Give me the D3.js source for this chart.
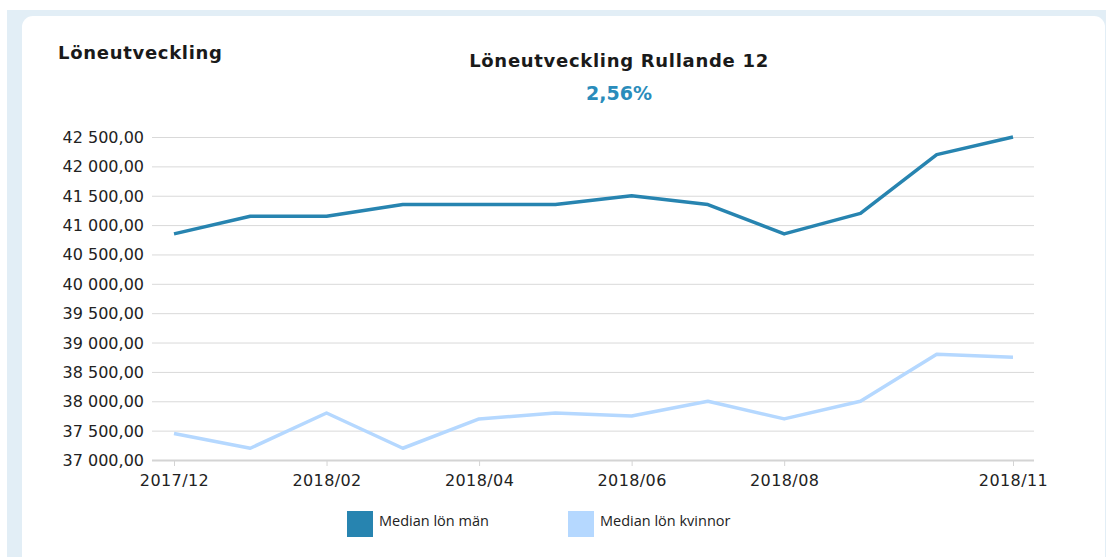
<!DOCTYPE html>
<html><head><meta charset="utf-8">
<script src="https://cdn.jsdelivr.net/npm/d3@7"></script>
<style>
html,body{margin:0;padding:0;background:#fff;}
svg{display:block;}
</style></head>
<body>
<svg id="chart" width="1106" height="557"></svg>
<script>
const months = ["2017/12","2018/01","2018/02","2018/03","2018/04","2018/05","2018/06","2018/07","2018/08","2018/09","2018/10","2018/11"];
const tickMonths = ["2017/12","2018/02","2018/04","2018/06","2018/08","2018/11"];
const medianMen = [40850,41150,41150,41350,41350,41350,41500,41350,40850,41200,42200,42500];
const medianWomen = [37450,37200,37800,37200,37700,37800,37750,38000,37700,38000,38800,38750];
const yTicks = [37000,37500,38000,38500,39000,39500,40000,40500,41000,41500,42000,42500];
const seriesNames = ["Median lön män","Median lön kvinnor"];
const seriesColors = ["#2784b0","#b5d8ff"];
const cardTitle = "Löneutveckling";
const chartTitle = "Löneutveckling Rullande 12";
const kpi = "2,56%";

const svg = d3.select("#chart");
// background
svg.append("rect").attr("x",7).attr("y",10).attr("width",1099).attr("height",547).attr("fill","#e2eef6");
svg.append("rect").attr("x",22).attr("y",16).attr("width",1083).attr("height",600).attr("rx",11).attr("fill","#fff");

svg.append("text").attr("x",58).attr("y",59).text(cardTitle)
  .attr("font-family","DejaVu Sans, Verdana, sans-serif").attr("font-weight","bold").attr("font-size",18)
  .attr("letter-spacing",0.7).attr("fill","#1a1a1a");
svg.append("text").attr("x",619).attr("y",67).attr("text-anchor","middle").text(chartTitle)
  .attr("font-family","DejaVu Sans, Verdana, sans-serif").attr("font-weight","bold").attr("font-size",18)
  .attr("letter-spacing",0.7).attr("fill","#1a1a1a");
svg.append("text").attr("x",619).attr("y",100).attr("text-anchor","middle").text(kpi)
  .attr("font-family","DejaVu Sans, Verdana, sans-serif").attr("font-weight","bold").attr("font-size",19).attr("fill","#2a8cbb");

const x = d3.scalePoint().domain(months).range([174,1013]);
const y = d3.scaleLinear().domain([37000,42500]).range([460,137]);
const fmt = v => d3.format(",.2f")(v).replace(/,/g," ").replace(".",",");

// grid
const g = svg.append("g");
g.selectAll("line.grid").data(yTicks).join("line")
  .attr("x1",152).attr("x2",1034).attr("y1",d=>y(d)+0.5).attr("y2",d=>y(d)+0.5)
  .attr("stroke",d=>d===37000?"#d4d4d4":"#d9d9d9").attr("stroke-width",d=>d===37000?2:1);
g.selectAll("text.yl").data(yTicks).join("text")
  .attr("x",144).attr("y",d=>y(d)+6).attr("text-anchor","end").text(fmt)
  .attr("font-family","DejaVu Sans, Verdana, sans-serif").attr("font-size",16).attr("fill","#222");

// x axis
const xAxis = d3.axisBottom(x).tickValues(tickMonths).tickSize(5).tickPadding(9);
const ax = svg.append("g").attr("transform","translate(0,461)").call(xAxis);
ax.select(".domain").remove();
ax.selectAll(".tick line").attr("stroke","#d4d4d4");
ax.selectAll(".tick text").attr("font-family","DejaVu Sans, Verdana, sans-serif").attr("font-size",16)
  .attr("letter-spacing",0.4).attr("fill","#222");

const line = d3.line().x((d,i)=>x(months[i])).y(d=>y(d));
[medianWomen, medianMen].forEach((s,k)=>{
  svg.append("path").datum(s).attr("d",line).attr("fill","none")
    .attr("stroke", k===0?seriesColors[1]:seriesColors[0]).attr("stroke-width",3.5).attr("stroke-linejoin","round");
});

// legend
const legX = [347,568];
seriesNames.forEach((n,i)=>{
  svg.append("rect").attr("x",legX[i]).attr("y",511).attr("width",26).attr("height",26).attr("fill",seriesColors[i]);
  svg.append("text").attr("x",legX[i]+32).attr("y",526).text(n)
    .attr("font-family","Open Sans, Noto Sans, sans-serif").attr("font-size",14.5).attr("fill","#222");
});
</script>
</body></html>
